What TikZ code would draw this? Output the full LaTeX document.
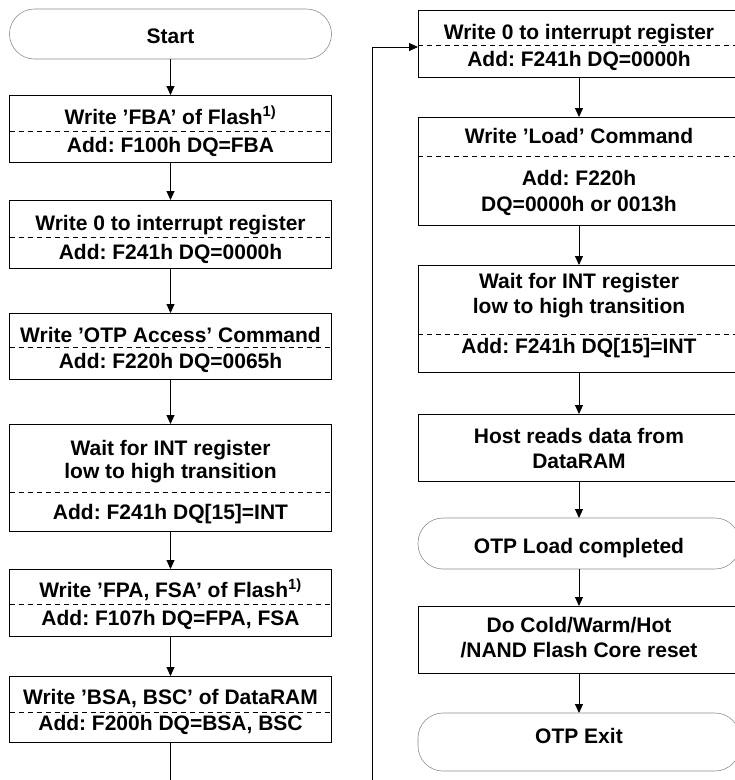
\documentclass[tikz,border=0pt]{standalone}
\usepackage{fontspec}
\setmainfont{Liberation Sans}
\frenchspacing
\usetikzlibrary{arrows.meta}
\tikzset{
  box/.style={draw=black, line width=0.9pt, minimum width=322pt, inner sep=0pt, outer sep=0pt},
  term/.style={draw=black!45, line width=0.6pt, rounded corners=25pt, minimum width=322pt, inner sep=0pt, outer sep=0pt},
  txt/.style={anchor=base, font=\fontsize{21}{25}\selectfont\bfseries, inner sep=0pt},
  sep/.style={dash pattern=on 5pt off 4pt, line width=0.8pt},
  arr/.style={-{Triangle[length=9pt,width=8pt]}, line width=0.9pt},
}
\begin{document}
\begin{tikzpicture}[x=1pt,y=-1pt]
\useasboundingbox (0,0) rectangle (735,780);
\clip (0,0) rectangle (735,780);
% ---------- left column ----------
\node[term, minimum height=50pt] (start) at (170.5,34) {};
\node[txt] (tstart) at (170.5,43) {Start};

\node[box, minimum height=67pt] (L1) at (170.5,128.5) {};
\draw[sep] (L1.west |- 0,131) -- (L1.east |- 0,131);
\node[txt] (t1a) at (170.5,124) {Write ’FBA’ of Flash\textsuperscript{1)}};
\node[txt] (t1b) at (170.5,152) {Add: F100h DQ=FBA};

\node[box, minimum height=68pt] (L2) at (170.5,234) {};
\draw[sep] (L2.west |- 0,237) -- (L2.east |- 0,237);
\node[txt] (t2a) at (170.5,230) {Write 0 to interrupt register};
\node[txt] (t2b) at (170.5,259) {Add: F241h DQ=0000h};

\node[box, minimum height=66pt] (L3) at (170.5,346) {};
\draw[sep] (L3.west |- 0,347) -- (L3.east |- 0,347);
\node[txt] (t3a) at (170.5,342) {Write ’OTP Access’ Command};
\node[txt] (t3b) at (170.5,368) {Add: F220h DQ=0065h};

\node[box, minimum height=107pt] (L4) at (170.5,477.5) {};
\draw[sep] (L4.west |- 0,492) -- (L4.east |- 0,492);
\node[txt] (t4a) at (170.5,455) {Wait for INT register};
\node[txt] (t4b) at (170.5,478) {low to high transition};
\node[txt] (t4c) at (170.5,519) {Add: F241h DQ[15]=INT};

\node[box, minimum height=67pt] (L5) at (170.5,602.5) {};
\draw[sep] (L5.west |- 0,604) -- (L5.east |- 0,604);
\node[txt] (t5a) at (170.5,597) {Write ’FPA, FSA’ of Flash\textsuperscript{1)}};
\node[txt] (t5b) at (170.5,625) {Add: F107h DQ=FPA, FSA};

\node[box, minimum height=66pt] (L6) at (170.5,709) {};
\draw[sep] (L6.west |- 0,712) -- (L6.east |- 0,712);
\node[txt] (t6a) at (170.5,704) {Write ’BSA, BSC’ of DataRAM};
\node[txt] (t6b) at (170.5,730) {Add: F200h DQ=BSA, BSC};

% ---------- right column ----------
\node[box, minimum height=67pt] (R1) at (579,43.5) {};
\draw[sep] (R1.west |- 0,45) -- (R1.east |- 0,45);
\node[txt] (r1a) at (579,39) {Write 0 to interrupt register};
\node[txt] (r1b) at (579,66) {Add: F241h DQ=0000h};

\node[box, minimum height=108pt] (R2) at (579,171) {};
\draw[sep] (R2.west |- 0,156) -- (R2.east |- 0,156);
\node[txt] (r2a) at (579,143) {Write ’Load’ Command};
\node[txt] (r2b) at (579,185) {Add: F220h};
\node[txt] (r2c) at (579,211) {DQ=0000h or 0013h};

\node[box, minimum height=107pt] (R3) at (579,318.5) {};
\draw[sep] (R3.west |- 0,334) -- (R3.east |- 0,334);
\node[txt] (r3a) at (579,288) {Wait for INT register};
\node[txt] (r3b) at (579,313) {low to high transition};
\node[txt] (r3c) at (579,353) {Add: F241h DQ[15]=INT};

\node[box, minimum height=67pt] (R4) at (579,447.5) {};
\node[txt] (r4a) at (579,443) {Host reads data from};
\node[txt] (r4b) at (579,468) {DataRAM};

\node[term, minimum height=51pt] (R5) at (579,543.5) {};
\node[txt] (r5a) at (579,553) {OTP Load completed};

\node[box, minimum height=67pt] (R6) at (579,639.5) {};
\node[txt] (r6a) at (579,632) {Do Cold/Warm/Hot};
\node[txt] (r6b) at (579,657) {/NAND Flash Core reset};

\node[term, minimum height=58pt] (R7) at (579,742) {};
\node[txt] (r7a) at (579,743) {OTP Exit};

% ---------- connectors ----------
\draw[arr] (start) -- (L1);
\draw[arr] (L1) -- (L2);
\draw[arr] (L2) -- (L3);
\draw[arr] (L3) -- (L4);
\draw[arr] (L4) -- (L5);
\draw[arr] (L5) -- (L6);
\coordinate (lb) at (170.5,800);
\coordinate (rb) at (372,800);
\draw[arr] (L6.south) -- (lb) -- (rb) |- ([yshift=-3.5pt]R1.west);
\draw[arr] (R1) -- (R2);
\draw[arr] (R2) -- (R3);
\draw[arr] (R3) -- (R4);
\draw[arr] (R4) -- (R5);
\draw[arr] (R5) -- (R6);
\draw[arr] (R6) -- (R7);
\end{tikzpicture}
\end{document}
